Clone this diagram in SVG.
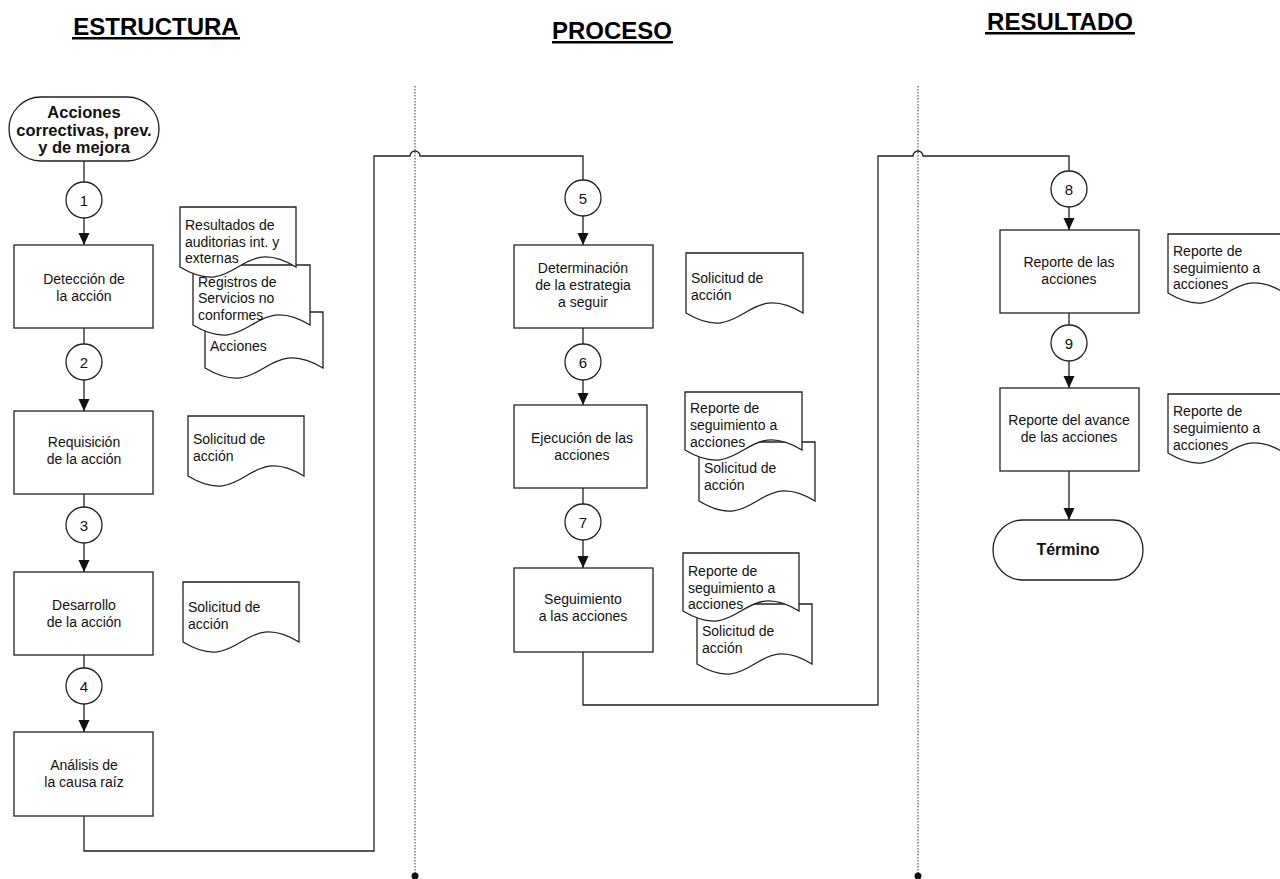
<svg xmlns="http://www.w3.org/2000/svg" width="1280" height="879" viewBox="0 0 1280 879">
<style>
  .shape { fill: #ffffff; stroke: #222222; stroke-width: 1.3; }
  .conn { fill: none; stroke: #222222; stroke-width: 1.3; }
  .lane { fill: none; stroke: #333333; stroke-width: 1; stroke-dasharray: 1.5 1.5; }
  .t { font-family: "Liberation Sans", Arial, sans-serif; font-size: 14px; fill: #111111; }
  .c { text-anchor: middle; }
  .b { font-weight: bold; }
  .term { font-family: "Liberation Sans", Arial, sans-serif; font-size: 16.5px; font-weight: bold; fill: #111111; text-anchor: middle; }
  .num { font-family: "Liberation Sans", Arial, sans-serif; font-size: 15px; fill: #111111; text-anchor: middle; }
  .head { font-family: "Liberation Sans", Arial, sans-serif; font-size: 24px; font-weight: bold; fill: #000000; text-anchor: middle; }
</style>
<defs>
  <marker id="arr" markerUnits="userSpaceOnUse" markerWidth="12" markerHeight="12" viewBox="0 0 12 12" refX="12" refY="6" orient="auto">
    <path d="M0,0.5 L12,6 L0,11.5 Z" fill="#111111"/>
  </marker>
</defs>
<rect x="0" y="0" width="1280" height="879" fill="#ffffff"/>

<g id="headings">
  <text class="head" x="156" y="35">ESTRUCTURA</text>
  <rect x="72" y="37" width="168" height="2.5" fill="#000"/>
  <text class="head" x="612" y="39">PROCESO</text>
  <rect x="552" y="41" width="121" height="2.5" fill="#000"/>
  <text class="head" x="1060" y="30">RESULTADO</text>
  <rect x="985" y="32" width="150" height="2.5" fill="#000"/>
</g>

<g id="lanes">
  <line class="lane" x1="415" y1="86" x2="415" y2="876"/>
  <circle cx="415" cy="876" r="3.5" fill="#111"/>
  <line class="lane" x1="918" y1="86" x2="918" y2="876"/>
  <circle cx="918" cy="876" r="3.5" fill="#111"/>
</g>

<g id="connectors">
  <line class="conn" x1="84" y1="161" x2="84" y2="182"/>
  <line class="conn" x1="84" y1="218" x2="84" y2="245" marker-end="url(#arr)"/>
  <line class="conn" x1="84" y1="328" x2="84" y2="344"/>
  <line class="conn" x1="84" y1="380" x2="84" y2="411" marker-end="url(#arr)"/>
  <line class="conn" x1="84" y1="494" x2="84" y2="507"/>
  <line class="conn" x1="84" y1="543" x2="84" y2="572" marker-end="url(#arr)"/>
  <line class="conn" x1="84" y1="655" x2="84" y2="668"/>
  <line class="conn" x1="84" y1="704" x2="84" y2="732" marker-end="url(#arr)"/>
  <path class="conn" d="M84,816 V851 H374 V156 H410 A5,5 0 0 1 420,156 H583 V180"/>
  <line class="conn" x1="583" y1="216" x2="583" y2="245" marker-end="url(#arr)"/>
  <line class="conn" x1="583" y1="328" x2="583" y2="344"/>
  <line class="conn" x1="583" y1="380" x2="583" y2="405" marker-end="url(#arr)"/>
  <line class="conn" x1="583" y1="488" x2="583" y2="504"/>
  <line class="conn" x1="583" y1="540" x2="583" y2="568" marker-end="url(#arr)"/>
  <path class="conn" d="M583,652 V705 H878 V156 H913 A5,5 0 0 1 923,156 H1069 V171"/>
  <line class="conn" x1="1069" y1="207" x2="1069" y2="230" marker-end="url(#arr)"/>
  <line class="conn" x1="1069" y1="313" x2="1069" y2="325"/>
  <line class="conn" x1="1069" y1="361" x2="1069" y2="388" marker-end="url(#arr)"/>
  <line class="conn" x1="1069" y1="471" x2="1069" y2="520" marker-end="url(#arr)"/>
</g>

<g id="start">
  <rect class="shape" x="9" y="97" width="150" height="64" rx="32" ry="32"/>
  <text class="term" x="84" y="118">Acciones</text>
  <text class="term" x="84" y="136">correctivas, prev.</text>
  <text class="term" x="84" y="153">y de mejora</text>
</g>

<g id="c1"><circle class="shape" cx="84" cy="200" r="18"/><text class="num" x="84" y="205.5">1</text></g>
<g id="c2"><circle class="shape" cx="84" cy="362" r="18"/><text class="num" x="84" y="367.5">2</text></g>
<g id="c3"><circle class="shape" cx="84" cy="525" r="18"/><text class="num" x="84" y="530.5">3</text></g>
<g id="c4"><circle class="shape" cx="84" cy="686" r="18"/><text class="num" x="84" y="691.5">4</text></g>
<g id="c5"><circle class="shape" cx="583" cy="198" r="18"/><text class="num" x="583" y="203.5">5</text></g>
<g id="c6"><circle class="shape" cx="583" cy="362" r="18"/><text class="num" x="583" y="367.5">6</text></g>
<g id="c7"><circle class="shape" cx="583" cy="522" r="18"/><text class="num" x="583" y="527.5">7</text></g>
<g id="c8"><circle class="shape" cx="1069" cy="189" r="18"/><text class="num" x="1069" y="194.5">8</text></g>
<g id="c9"><circle class="shape" cx="1069" cy="343" r="18"/><text class="num" x="1069" y="348.5">9</text></g>

<g id="box-deteccion">
  <rect class="shape" x="14" y="245" width="139" height="83"/>
  <text class="t c" x="84" y="284">Detección de</text>
  <text class="t c" x="84" y="301">la acción</text>
</g>
<g id="box-requisicion">
  <rect class="shape" x="14" y="411" width="139" height="83"/>
  <text class="t c" x="84" y="447">Requisición</text>
  <text class="t c" x="84" y="464">de la acción</text>
</g>
<g id="box-desarrollo">
  <rect class="shape" x="14" y="572" width="139" height="83"/>
  <text class="t c" x="84" y="610">Desarrollo</text>
  <text class="t c" x="84" y="627">de la acción</text>
</g>
<g id="box-analisis">
  <rect class="shape" x="14" y="732" width="139" height="84"/>
  <text class="t c" x="84" y="770">Análisis de</text>
  <text class="t c" x="84" y="787">la causa raíz</text>
</g>

<g id="box-determinacion">
  <rect class="shape" x="514" y="245" width="139" height="83"/>
  <text class="t c" x="583" y="273">Determinación</text>
  <text class="t c" x="583" y="290">de la estrategia</text>
  <text class="t c" x="583" y="307">a seguir</text>
</g>
<g id="box-ejecucion">
  <rect class="shape" x="514" y="405" width="133" height="83"/>
  <text class="t c" x="582" y="443">Ejecución de las</text>
  <text class="t c" x="582" y="460">acciones</text>
</g>
<g id="box-seguimiento">
  <rect class="shape" x="514" y="568" width="139" height="84"/>
  <text class="t c" x="583" y="604">Seguimiento</text>
  <text class="t c" x="583" y="621">a las acciones</text>
</g>

<g id="box-reporte">
  <rect class="shape" x="1000" y="230" width="139" height="83"/>
  <text class="t c" x="1069" y="267">Reporte de las</text>
  <text class="t c" x="1069" y="284">acciones</text>
</g>
<g id="box-avance">
  <rect class="shape" x="1000" y="388" width="139" height="83"/>
  <text class="t c" x="1069" y="425">Reporte del avance</text>
  <text class="t c" x="1069" y="442">de las acciones</text>
</g>
<g id="end">
  <rect class="shape" x="993" y="520" width="150" height="60" rx="30" ry="30"/>
  <text class="term" style="font-size:16px" x="1068" y="555">Término</text>
</g>

<g id="doc-acciones">
  <path class="shape" d="M205,312 H323 V368 C264,333 264,403 205,368 Z"/>
  <text class="t" x="210" y="351">Acciones</text>
</g>
<g id="doc-registros">
  <path class="shape" d="M193,265 H310 V325 C251.5,290 251.5,360 193,325 Z"/>
  <text class="t" x="198" y="287">Registros de</text>
  <text class="t" x="198" y="303">Servicios no</text>
  <text class="t" x="198" y="320">conformes</text>
</g>
<g id="doc-resultados">
  <path class="shape" d="M180,207 H296 V267 C238,232 238,302 180,267 Z"/>
  <text class="t" x="185" y="230">Resultados de</text>
  <text class="t" x="185" y="247">auditorias int. y</text>
  <text class="t" x="185" y="263">externas</text>
</g>
<g id="doc-sol-req">
  <path class="shape" d="M188,416 H304 V476 C246,441 246,511 188,476 Z"/>
  <text class="t" x="193" y="444">Solicitud de</text>
  <text class="t" x="193" y="461">acción</text>
</g>
<g id="doc-sol-des">
  <path class="shape" d="M183,582 H299 V642 C241,607 241,677 183,642 Z"/>
  <text class="t" x="188" y="612">Solicitud de</text>
  <text class="t" x="188" y="629">acción</text>
</g>

<g id="doc-sol-det">
  <path class="shape" d="M686,253 H803 V313 C744.5,278 744.5,348 686,313 Z"/>
  <text class="t" x="691" y="283">Solicitud de</text>
  <text class="t" x="691" y="300">acción</text>
</g>
<g id="doc-sol-eje">
  <path class="shape" d="M699,442 H815 V501 C757,466 757,536 699,501 Z"/>
  <text class="t" x="704" y="473">Solicitud de</text>
  <text class="t" x="704" y="490">acción</text>
</g>
<g id="doc-rep-eje">
  <path class="shape" d="M685,392 H802 V450 C743.5,415 743.5,485 685,450 Z"/>
  <text class="t" x="690" y="413">Reporte de</text>
  <text class="t" x="690" y="430">seguimiento a</text>
  <text class="t" x="690" y="447">acciones</text>
</g>
<g id="doc-sol-seg">
  <path class="shape" d="M697,604 H812 V664 C754.5,629 754.5,699 697,664 Z"/>
  <text class="t" x="702" y="636">Solicitud de</text>
  <text class="t" x="702" y="653">acción</text>
</g>
<g id="doc-rep-seg">
  <path class="shape" d="M683,553 H799 V611 C741,576 741,646 683,611 Z"/>
  <text class="t" x="688" y="576">Reporte de</text>
  <text class="t" x="688" y="593">seguimiento a</text>
  <text class="t" x="688" y="609">acciones</text>
</g>

<g id="doc-rep-8">
  <path class="shape" d="M1168,234 H1285 V293 C1226.5,258 1226.5,328 1168,293 Z"/>
  <text class="t" x="1173" y="256">Reporte de</text>
  <text class="t" x="1173" y="273">seguimiento a</text>
  <text class="t" x="1173" y="289">acciones</text>
</g>
<g id="doc-rep-9">
  <path class="shape" d="M1168,394 H1285 V453 C1226.5,418 1226.5,488 1168,453 Z"/>
  <text class="t" x="1173" y="416">Reporte de</text>
  <text class="t" x="1173" y="433">seguimiento a</text>
  <text class="t" x="1173" y="450">acciones</text>
</g>
</svg>
